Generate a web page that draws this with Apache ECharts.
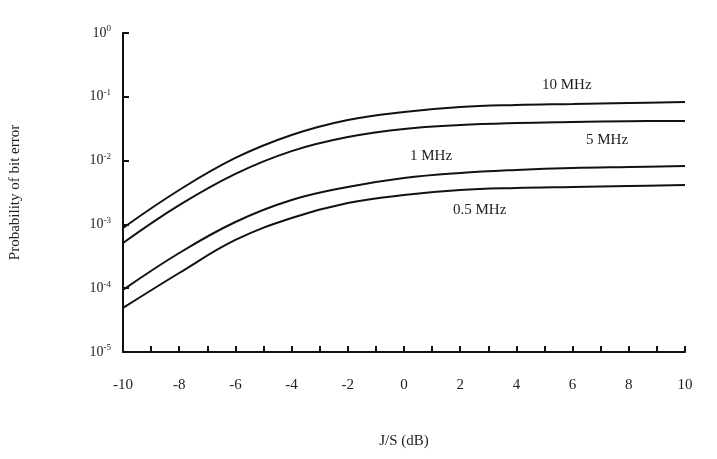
<!DOCTYPE html>
<html>
<head>
<meta charset="utf-8">
<script src="https://cdn.jsdelivr.net/npm/echarts@6/dist/echarts.min.js"></script>
<style>html,body{margin:0;padding:0;background:#fff}#c{width:717px;height:459px}</style>
</head>
<body>
<div id="c"></div>
<script>
var xVals = [-10, -8, -6, -4, -2, 0, 2, 4, 6, 8, 10];
var y10MHz = [8.8e-4, 3.46e-3, 1.10e-2, 2.52e-2, 4.33e-2, 5.78e-2, 6.92e-2, 7.44e-2, 7.71e-2, 8.0e-2, 8.28e-2];
var y5MHz = [5.1e-4, 2.0e-3, 6.2e-3, 1.41e-2, 2.34e-2, 3.13e-2, 3.61e-2, 3.88e-2, 4.03e-2, 4.15e-2, 4.18e-2];
var y1MHz = [9.4e-5, 3.56e-4, 1.09e-3, 2.41e-3, 3.86e-3, 5.34e-3, 6.4e-3, 7.13e-3, 7.66e-3, 7.94e-3, 8.2e-3];
var y05MHz = [4.9e-5, 1.73e-4, 5.7e-4, 1.26e-3, 2.16e-3, 2.89e-3, 3.46e-3, 3.72e-3, 3.86e-3, 4.0e-3, 4.15e-3];
var seriesNames = ['10 MHz', '5 MHz', '1 MHz', '0.5 MHz'];

var font = 'Liberation Serif';
function pairs(ys) {
	var out = [];
	for(var i = 0; i < xVals.length; i++) out.push([xVals[i], ys[i]]);
	return out;
}
function line(name, ys) {
	return {
		name: name, type: 'line', smooth: 0.4, symbol: 'none', data: pairs(ys),
		lineStyle: {color: '#111', width: 2}
	};
}
var chart = echarts.init(document.getElementById('c'));
chart.setOption({
	animation: false,
	grid: {left: 120, right: 32, top: 33, bottom: 107},
	xAxis: {
		type: 'value', min: -10, max: 10, interval: 2,
		name: 'J/S (dB)', nameLocation: 'middle', nameGap: 82,
		nameTextStyle: {fontFamily: font, fontSize: 15, color: '#222'},
		axisLine: {onZero: false, lineStyle: {color: '#111', width: 2}},
		axisTick: {inside: true, length: 6, lineStyle: {color: '#111', width: 2}},
		minorTick: {show: true, splitNumber: 2, length: 6, lineStyle: {color: '#111', width: 2}},
		axisLabel: {fontFamily: font, fontSize: 15, color: '#222', margin: 26},
		splitLine: {show: false}
	},
	yAxis: {
		type: 'log', min: 1e-5, max: 1, logBase: 10,
		name: 'Probability of bit error', nameLocation: 'middle', nameGap: 100,
		nameTextStyle: {fontFamily: font, fontSize: 15, color: '#222'},
		axisLine: {onZero: false, lineStyle: {color: '#111', width: 2}},
		axisTick: {inside: true, length: 6, lineStyle: {color: '#111', width: 2}},
		axisLabel: {
			fontFamily: font, fontSize: 14, color: '#222', margin: 12,
			formatter: function(v) {
				var e = Math.round(Math.log10(v));
				return '10{s|' + e + '}';
			},
			rich: {s: {fontFamily: font, fontSize: 9, verticalAlign: 'top', padding: [0, 0, 8, 0]}}
		},
		splitLine: {show: false}
	},
	series: [line(seriesNames[0], y10MHz), line(seriesNames[1], y5MHz), line(seriesNames[2], y1MHz), line(seriesNames[3], y05MHz)],
	graphic: [
		{type: 'text', left: 542, top: 78, style: {text: seriesNames[0], font: '15px "Liberation Serif"', fill: '#222'}},
		{type: 'text', left: 586, top: 133, style: {text: seriesNames[1], font: '15px "Liberation Serif"', fill: '#222'}},
		{type: 'text', left: 410, top: 149, style: {text: seriesNames[2], font: '15px "Liberation Serif"', fill: '#222'}},
		{type: 'text', left: 453, top: 203, style: {text: seriesNames[3], font: '15px "Liberation Serif"', fill: '#222'}}
	]
});
</script>
</body>
</html>
